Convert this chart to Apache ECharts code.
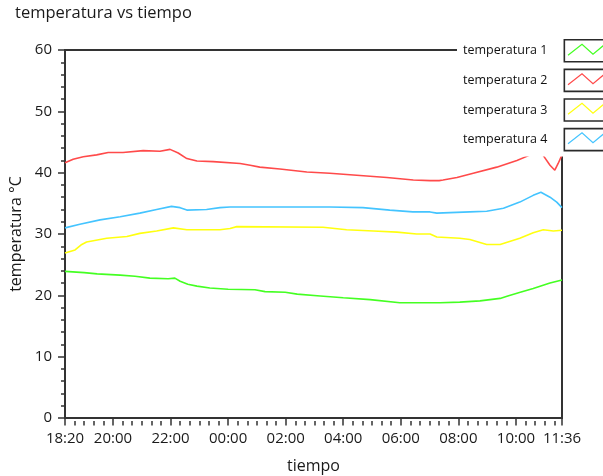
<!DOCTYPE html>
<html>
<head>
<meta charset="utf-8">
<script src="https://cdn.jsdelivr.net/npm/echarts@6/dist/echarts.min.js"></script>
<style>html,body{margin:0;padding:0;background:#fff}#c{width:603px;height:476px}</style>
</head>
<body>
<div id="c"></div>
<script>
// minutes since 18:20
const seriesNames = ['temperatura 1', 'temperatura 2', 'temperatura 3', 'temperatura 4'];
const temp1 = [[0,23.9],[40,23.7],[67,23.5],[115,23.3],[146,23.1],[177,22.8],[215,22.7],[229,22.8],[240,22.3],[256,21.8],[275,21.5],[302,21.2],[340,21.0],[396,20.9],[417,20.6],[459,20.5],[484,20.2],[532,19.9],[580,19.6],[636,19.3],[698,18.8],[782,18.8],[823,18.9],[865,19.1],[907,19.5],[923,19.9],[949,20.5],[976,21.1],[1011,22.0],[1036,22.5]];
const temp2 = [[0,41.6],[17,42.2],[38,42.6],[66,42.9],[90,43.3],[121,43.3],[163,43.6],[198,43.5],[219,43.8],[236,43.2],[254,42.3],[275,41.9],[309,41.8],[365,41.5],[386,41.2],[406,40.9],[448,40.6],[504,40.1],[552,39.9],[622,39.5],[671,39.2],[726,38.8],[761,38.7],[780,38.7],[788,38.8],[817,39.2],[851,39.9],[900,40.9],[942,42.0],[970,42.9],[983,43.5],[996,42.9],[1011,41.2],[1021,40.4],[1028,41.5],[1036,42.9]];
const temp3 = [[0,26.9],[21,27.4],[35,28.3],[45,28.7],[87,29.3],[129,29.6],[156,30.1],[191,30.5],[226,31.0],[254,30.7],[323,30.7],[344,30.9],[358,31.2],[538,31.1],[587,30.7],[643,30.5],[692,30.3],[733,30.0],[761,30.0],[775,29.5],[823,29.3],[844,29.1],[879,28.3],[907,28.3],[948,29.3],[976,30.2],[997,30.7],[1018,30.5],[1036,30.6]];
const temp4 = [[0,31.0],[31,31.6],[73,32.3],[115,32.8],[156,33.4],[191,34.0],[222,34.5],[240,34.3],[254,33.9],[295,34.0],[323,34.3],[344,34.4],[411,34.4],[552,34.4],[621,34.3],[677,33.9],[725,33.6],[761,33.6],[775,33.4],[844,33.6],[879,33.7],[914,34.2],[948,35.2],[976,36.3],[992,36.8],[1011,36.0],[1025,35.2],[1036,34.3]];
const seriesColors = ['#44ff22', '#ff4a4a', '#ffff10', '#44c4ff'];
const xTickMinutes = [0,100,220,340,460,580,700,820,940,1036];
const xTickLabels = ['18:20','20:00','22:00','00:00','02:00','04:00','06:00','08:00','10:00','11:36'];
const yTicks = [0,10,20,30,40,50,60];

const FONT = 'Open Sans';
const chart = echarts.init(document.getElementById('c'));
const labelMap = {};
xTickMinutes.forEach((m, i) => { labelMap[m] = xTickLabels[i]; });

const legendTop = 39.5, legendStep = 29.5, boxLeft = 565;
const zig = [];
for (let i = 0; i < 4; i++) {
  const t = legendTop + i * legendStep;
  zig.push({
    type: 'polyline', z: 100,
    shape: { points: [[boxLeft+3, t+15.7], [boxLeft+17, t+4.7], [boxLeft+28, t+14.7], [boxLeft+40, t+4.7], [boxLeft+45, t+9]] },
    style: { stroke: seriesColors[i], lineWidth: 1.2, fill: null }
  });
}

chart.setOption({
  animation: false,
  backgroundColor: '#fff',
  title: {
    text: 'temperatura vs tiempo', left: 15, top: 5, padding: 0,
    textStyle: { fontFamily: FONT, fontSize: 16.5, fontWeight: 'normal', color: '#1a1a1a' }
  },
  legend: {
    orient: 'vertical', left: 457, top: 38, padding: [1, 0, 5, 6],
    backgroundColor: '#fff', itemWidth: 46, itemHeight: 22, itemGap: 6,
    align: 'right', icon: 'rect', selectedMode: false,
    itemStyle: { color: '#fff', borderColor: '#2a2a2a', borderWidth: 1.6 },
    textStyle: { fontFamily: FONT, fontSize: 12.5, color: '#111', padding: [0, 12, 0, 0] },
    data: seriesNames
  },
  grid: { left: 65, right: 41, top: 50, bottom: 58, outerBoundsMode: 'none', containLabel: false, show: true, borderColor: '#333', borderWidth: 2, backgroundColor: '#fff' },
  xAxis: [{
    type: 'value', min: 0, max: 1036, position: 'bottom', offset: 3,
    name: 'tiempo', nameLocation: 'middle', nameGap: 37,
    nameTextStyle: { fontFamily: FONT, fontSize: 16, color: '#1a1a1a' },
    axisLine: { show: false },
    axisTick: { show: true, length: 7.5, customValues: xTickMinutes, lineStyle: { color: '#333', width: 1.5 } },
    axisLabel: { customValues: xTickMinutes, margin: 10, fontFamily: FONT, fontSize: 15, color: '#1a1a1a', formatter: v => labelMap[v] || '' },
    splitLine: { show: false }
  }, {
    type: 'value', min: 0, max: 1036, interval: 20, position: 'bottom', offset: 3,
    axisLine: { show: false },
    axisTick: { show: true, length: 4.5, lineStyle: { color: '#333', width: 1.5 } },
    axisLabel: { show: false },
    splitLine: { show: false }
  }],
  yAxis: {
    type: 'value', min: 0, max: 60, interval: 10, offset: 2,
    name: 'temperatura °C', nameLocation: 'middle', nameGap: 33,
    nameTextStyle: { fontFamily: FONT, fontSize: 16, color: '#1a1a1a' },
    axisLine: { show: false },
    axisTick: { show: true, length: 7, customValues: yTicks, lineStyle: { color: '#333', width: 1.5 } },
    minorTick: { show: true, splitNumber: 5, length: 4, lineStyle: { color: '#333', width: 1.5 } },
    axisLabel: { margin: 11, fontFamily: FONT, fontSize: 15, color: '#1a1a1a' },
    splitLine: { show: false }, minorSplitLine: { show: false }
  },
  series: [temp1, temp2, temp3, temp4].map((d, i) => ({
    name: seriesNames[i], type: 'line', data: d, xAxisIndex: 0,
    showSymbol: false, symbol: 'none', color: seriesColors[i],
    lineStyle: { color: seriesColors[i], width: 1.6 }
  })),
  graphic: zig
});
</script>
</body>
</html>
